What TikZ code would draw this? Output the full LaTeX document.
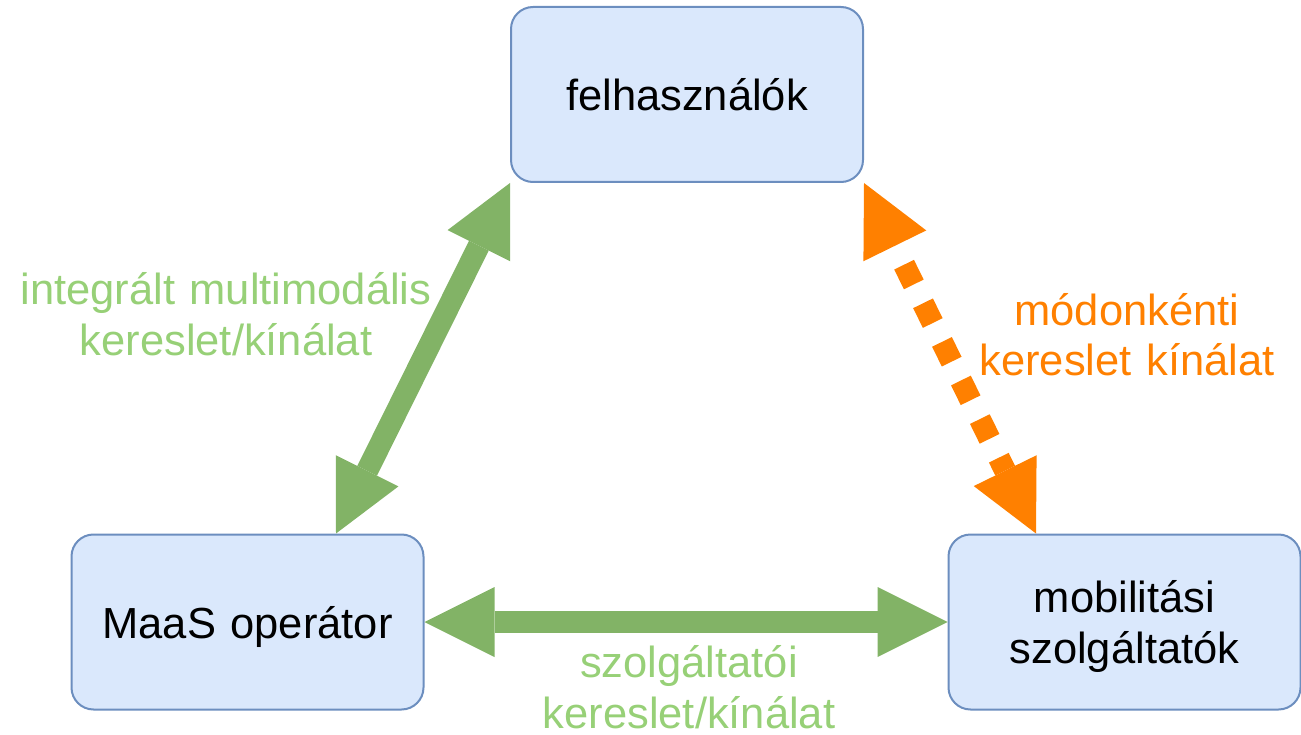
\documentclass[tikz,border=0pt]{standalone}
\usepackage{fontspec}
\setmainfont{Liberation Sans}
\usetikzlibrary{arrows.meta,calc}
\definecolor{boxfill}{HTML}{DAE8FC}
\definecolor{boxline}{HTML}{6C8EBF}
\definecolor{arrgreen}{HTML}{82B366}
\definecolor{lblgreen}{HTML}{97D077}
\definecolor{arrorange}{HTML}{FF8000}
\begin{document}
\begin{tikzpicture}[x=1pt,y=-1pt,
  actor/.style={draw=boxline, fill=boxfill, line width=2pt, rounded corners=22pt,
    minimum width=352pt, minimum height=175pt, inner sep=0pt,
    text width=340pt, align=center, font=\fontsize{43.5}{51}\selectfont,
    text height=35pt, text depth=3pt},
  lbl/.style={inner sep=0pt, text width=460pt, align=center, anchor=base,
    font=\fontsize{43.5}{51}\selectfont},
  garrow/.style={draw=arrgreen, line width=22pt,
    >={Triangle[length=70pt,width=70pt,line width=0pt]}, <->},
  oarrow/.style={draw=arrorange, line width=22pt,
    dash pattern=on 22pt off 21pt, dash phase=22pt,
    >={Triangle[length=70pt,width=70pt,line width=0pt]}, <->}]
\useasboundingbox (0,0) rectangle (1301,735);

\node[actor] (felh) at (687,94.5) {felhasználók};
\node[actor] (maas) at (247.5,622) {MaaS operátor};
\node[actor, text depth=54pt] (mob) at (1124.5,622) {mobilitási\\szolgáltatók};

\coordinate (mtop) at ($(maas.north west)!0.75!(maas.north east)$);
\coordinate (mobtop) at ($(mob.north west)!0.25!(mob.north east)$);

\draw[garrow] (mtop) -- (felh.south west);
\draw[oarrow] (felh.south east) -- (mobtop);
\draw[garrow] (maas.east) -- (mob.west);

\node[lbl, text=lblgreen] (l1) at (226,305) {integrált multimodális\\kereslet/kínálat};
\node[lbl, text=arrorange] (l2) at (1127,325) {módonkénti\\kereslet kínálat};
\node[lbl, text=lblgreen] (l3) at (689,677) {szolgáltatói\\kereslet/kínálat};
\end{tikzpicture}
\end{document}
